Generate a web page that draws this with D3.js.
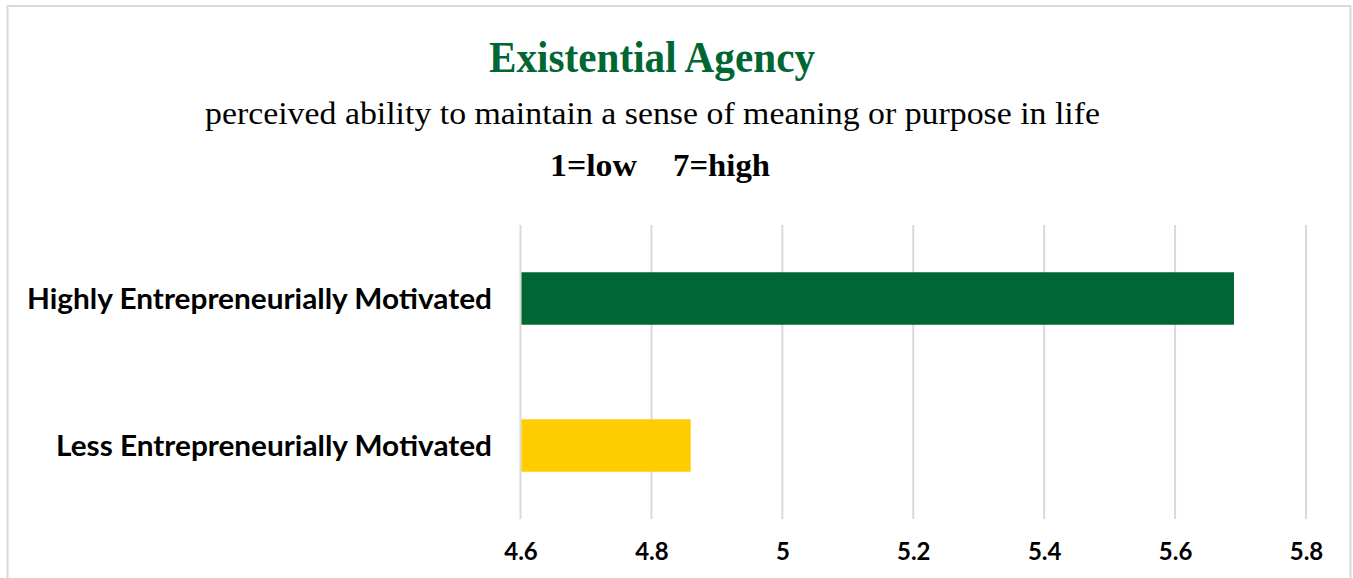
<!DOCTYPE html>
<html>
<head>
<meta charset="utf-8">
<script src="https://cdn.jsdelivr.net/npm/d3@7"></script>
<style>
  html, body { margin: 0; padding: 0; background: #fff; }
  svg { display: block; }
</style>
</head>
<body>
<svg id="chart" width="1353" height="578"></svg>
<script>
const categories = ["Highly Entrepreneurially Motivated", "Less Entrepreneurially Motivated"];
const values = [5.69, 4.86];
const barColors = ["#006633", "#FFCC00"];
const tickValues = [4.6, 4.8, 5.0, 5.2, 5.4, 5.6, 5.8];
const tickLabels = ["4.6", "4.8", "5", "5.2", "5.4", "5.6", "5.8"];
const titleText = "Existential Agency";
const subtitleText = "perceived ability to maintain a sense of meaning or purpose in life";
const scaleNoteLow = "1=low";
const scaleNoteHigh = "7=high";

const svg = d3.select("#chart");
const W = 1353, H = 578;

function fit(sel, w) {
  const len = sel.node().getComputedTextLength();
  if (Math.abs(len - w) > 2) sel.attr("textLength", w).attr("lengthAdjust", "spacingAndGlyphs");
}

// outer border (chart area)
svg.append("path")
  .attr("d", `M7.5,${H} V6 H1350.5 V${H}`)
  .attr("fill", "none")
  .attr("stroke", "#d9d9d9")
  .attr("stroke-width", 2);

const x = d3.scaleLinear().domain([4.6, 5.8]).range([520.5, 1306]);
const y = d3.scaleBand().domain(categories).range([225, 519]).paddingInner(0.643).paddingOuter(0.3215);

// gridlines
svg.append("g").selectAll("line").data(tickValues).join("line")
  .attr("x1", d => x(d)).attr("x2", d => x(d))
  .attr("y1", 225).attr("y2", 519)
  .attr("stroke", "#d9d9d9").attr("stroke-width", 2);

// bars
svg.append("g").selectAll("rect").data(categories).join("rect")
  .attr("x", x(4.6) + 1)
  .attr("y", d => y(d))
  .attr("width", (d, i) => x(values[i]) - x(4.6) - 1)
  .attr("height", y.bandwidth())
  .attr("fill", (d, i) => barColors[i]);

// x axis labels
const xAxis = d3.axisBottom(x).tickValues(tickValues).tickFormat((d, i) => tickLabels[i]).tickSize(0).tickPadding(0);
const gx = svg.append("g").attr("transform", "translate(0,541)").call(xAxis);
gx.select(".domain").remove();
gx.selectAll("text")
  .attr("y", 0).attr("dy", "0.80em")
  .attr("fill", "#000")
  .style("font-family", "Lato, sans-serif")
  .style("font-weight", "bold")
  .style("font-size", "24px");

// y axis labels
const yAxis = d3.axisLeft(y).tickSize(0).tickPadding(0);
const gy = svg.append("g").attr("transform", "translate(492,0)").call(yAxis);
gy.select(".domain").remove();
const labelWidths = [465, 436];
gy.selectAll("text")
  .attr("x", 0).attr("dy", "0.36em")
  .attr("fill", "#000")
  .style("font-family", "Lato, sans-serif")
  .style("font-weight", "bold")
  .style("font-size", "28px")
  .each(function(d, i) { fit(d3.select(this), labelWidths[i]); });

// title
const t = svg.append("text")
  .attr("x", 652).attr("y", 72)
  .attr("text-anchor", "middle")
  .attr("fill", "#006633")
  .style("font-family", "'Liberation Serif', serif")
  .style("font-weight", "bold")
  .style("font-size", "44px")
  .text(titleText);
fit(t, 326);

const st = svg.append("text")
  .attr("x", 652.5).attr("y", 124)
  .attr("text-anchor", "middle")
  .attr("fill", "#000")
  .style("font-family", "'Liberation Serif', serif")
  .style("font-size", "31px")
  .text(subtitleText);
fit(st, 895);

const n1 = svg.append("text")
  .attr("x", 550).attr("y", 176)
  .attr("fill", "#000")
  .style("font-family", "'Liberation Serif', serif")
  .style("font-weight", "bold")
  .style("font-size", "32px")
  .text(scaleNoteLow);
fit(n1, 87);
const n2 = svg.append("text")
  .attr("x", 673).attr("y", 176)
  .attr("fill", "#000")
  .style("font-family", "'Liberation Serif', serif")
  .style("font-weight", "bold")
  .style("font-size", "32px")
  .text(scaleNoteHigh);
fit(n2, 97);
</script>
</body>
</html>
